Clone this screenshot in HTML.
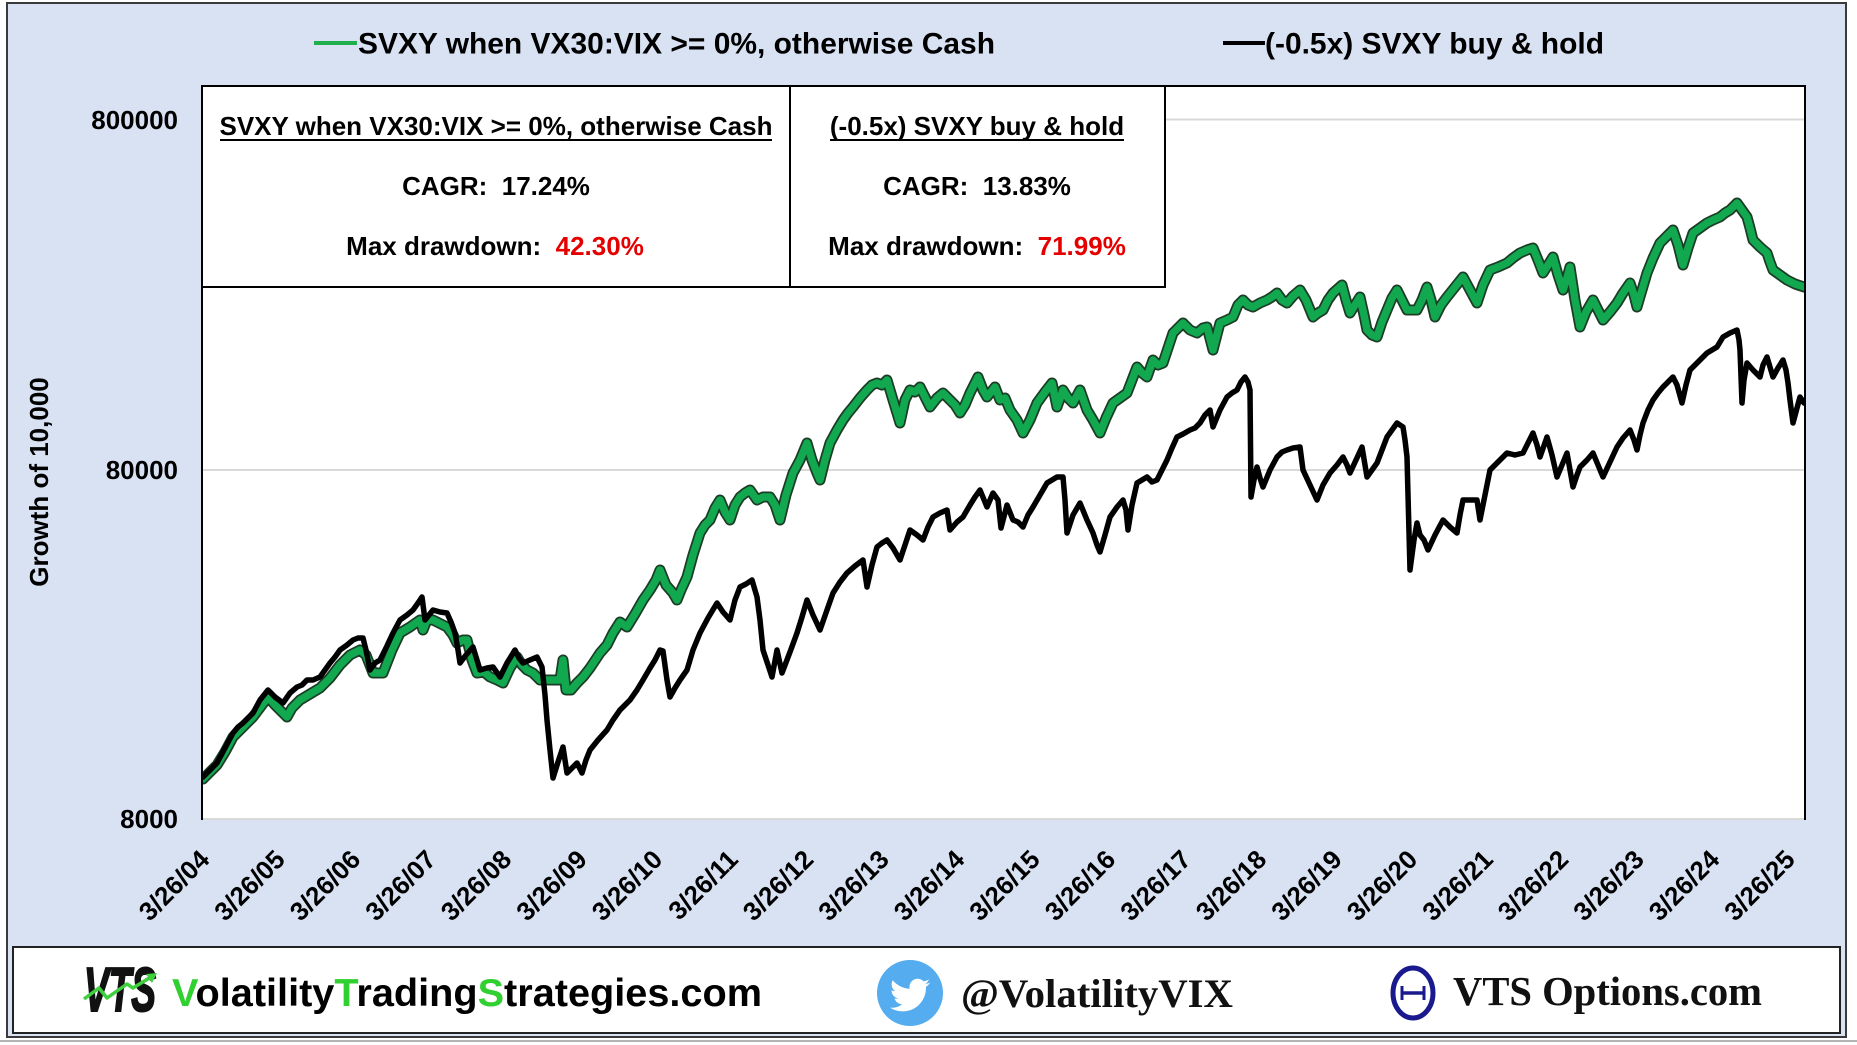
<!DOCTYPE html>
<html>
<head>
<meta charset="utf-8">
<style>
  html,body{margin:0;padding:0;background:#ffffff;}
  body{width:1857px;height:1045px;overflow:hidden;}
  svg{display:block;}
  .sans{font-family:"Liberation Sans", Arial, sans-serif;font-weight:bold;}
  .serif{font-family:"Liberation Serif", "Times New Roman", serif;font-weight:bold;}
</style>
</head>
<body>
<svg width="1857" height="1045" viewBox="0 0 1857 1045" xmlns="http://www.w3.org/2000/svg">
  <defs>
    <clipPath id="plotclip"><rect x="203" y="87" width="1601" height="732"/></clipPath>
  </defs>

  <!-- outer frame -->
  <rect x="0" y="0" width="1857" height="1045" fill="#ffffff"/>
  <rect x="7" y="3" width="1839" height="1034" fill="#d9e2f3" stroke="#3a3a3a" stroke-width="2"/>
  <line x1="0" y1="1041" x2="1857" y2="1041" stroke="#9a9a9a" stroke-width="1.5"/>

  <!-- legend -->
  <line x1="314" y1="43" x2="357" y2="43" stroke="#1fb04c" stroke-width="4"/>
  <text x="358" y="53.5" class="sans" font-size="30" fill="#000" textLength="637" lengthAdjust="spacingAndGlyphs">SVXY when VX30:VIX &gt;= 0%, otherwise Cash</text>
  <line x1="1223" y1="43" x2="1265" y2="43" stroke="#000" stroke-width="4"/>
  <text x="1265" y="53.5" class="sans" font-size="30" fill="#000" textLength="339" lengthAdjust="spacingAndGlyphs">(-0.5x) SVXY buy &amp; hold</text>

  <!-- plot area -->
  <rect x="202" y="86" width="1603" height="733" fill="#ffffff"/>
  <line x1="202" y1="119.5" x2="1805" y2="119.5" stroke="#d9d9d9" stroke-width="2"/>
  <line x1="202" y1="470" x2="1805" y2="470" stroke="#d9d9d9" stroke-width="2"/>
  <line x1="202" y1="819" x2="1805" y2="819" stroke="#d9d9d9" stroke-width="2"/>

  <!-- series -->
  <g clip-path="url(#plotclip)" fill="none" stroke-linejoin="round" stroke-linecap="round">
    <polyline stroke="#1b3d26" stroke-width="11" points="203,779 210,772 217,765 225,752 233,737 243,727 253,717 262,705 268,697 275,705 283,713 287,717 292,708 300,700 310,694 320,688 330,678 340,665 350,655 360,650 366,655 373,673 383,673 392,650 400,633 410,627 420,620 423,630 427,620 433,620 447,627 453,635 457,643 463,640 467,640 472,660 477,673 484,672 490,677 497,680 503,683 510,668 517,657 522,665 527,670 533,673 540,680 548,680 556,680 560,680 563,660 566,690 571,690 577,683 583,677 590,668 600,653 607,645 613,633 620,622 627,627 635,614 643,600 650,590 656,580 660,570 666,585 673,593 677,600 681,590 687,577 693,555 700,533 705,525 710,520 715,508 720,500 725,512 730,520 735,505 740,497 745,493 750,490 757,500 763,497 770,497 775,505 780,520 786,495 793,473 800,460 807,443 812,460 817,473 820,480 825,460 830,443 837,430 843,420 848,413 853,407 860,398 867,390 872,385 877,383 882,385 887,380 893,400 900,423 905,400 910,390 915,392 920,387 925,397 930,407 937,398 943,393 950,400 955,405 960,413 965,405 970,393 975,383 978,377 983,390 987,397 995,387 1000,400 1005,398 1010,410 1017,420 1023,433 1030,420 1037,403 1045,392 1052,383 1057,407 1063,390 1068,398 1073,403 1080,390 1087,410 1093,420 1100,433 1106,418 1113,403 1120,398 1127,393 1132,380 1137,367 1142,373 1147,377 1153,360 1158,365 1163,363 1168,348 1173,333 1178,328 1183,323 1190,330 1197,333 1203,328 1207,327 1213,350 1220,323 1227,320 1233,317 1238,305 1243,300 1248,305 1253,307 1260,303 1267,300 1272,297 1277,293 1282,300 1287,303 1293,296 1300,290 1306,300 1313,317 1318,313 1323,310 1328,300 1333,293 1342,285 1346,300 1350,313 1355,305 1360,297 1364,315 1367,330 1372,335 1377,337 1382,322 1387,310 1392,298 1397,290 1402,300 1407,310 1412,310 1417,310 1422,300 1427,287 1431,300 1435,317 1441,305 1447,297 1455,287 1463,277 1470,290 1477,303 1483,285 1490,270 1498,267 1507,263 1513,258 1520,253 1527,250 1533,248 1538,260 1543,273 1548,265 1553,257 1558,275 1563,290 1567,278 1570,267 1575,300 1580,327 1586,312 1593,300 1598,310 1603,320 1610,312 1617,303 1623,293 1630,283 1634,295 1637,307 1642,290 1647,273 1653,258 1660,243 1667,236 1673,230 1678,245 1683,265 1688,248 1693,233 1700,228 1707,223 1713,220 1720,217 1725,213 1730,210 1737,203 1742,210 1747,217 1750,228 1753,240 1760,247 1767,253 1770,262 1773,270 1780,275 1787,280 1795,284 1804,287"/>
    <polyline stroke="#12a850" stroke-width="7.5" points="203,779 210,772 217,765 225,752 233,737 243,727 253,717 262,705 268,697 275,705 283,713 287,717 292,708 300,700 310,694 320,688 330,678 340,665 350,655 360,650 366,655 373,673 383,673 392,650 400,633 410,627 420,620 423,630 427,620 433,620 447,627 453,635 457,643 463,640 467,640 472,660 477,673 484,672 490,677 497,680 503,683 510,668 517,657 522,665 527,670 533,673 540,680 548,680 556,680 560,680 563,660 566,690 571,690 577,683 583,677 590,668 600,653 607,645 613,633 620,622 627,627 635,614 643,600 650,590 656,580 660,570 666,585 673,593 677,600 681,590 687,577 693,555 700,533 705,525 710,520 715,508 720,500 725,512 730,520 735,505 740,497 745,493 750,490 757,500 763,497 770,497 775,505 780,520 786,495 793,473 800,460 807,443 812,460 817,473 820,480 825,460 830,443 837,430 843,420 848,413 853,407 860,398 867,390 872,385 877,383 882,385 887,380 893,400 900,423 905,400 910,390 915,392 920,387 925,397 930,407 937,398 943,393 950,400 955,405 960,413 965,405 970,393 975,383 978,377 983,390 987,397 995,387 1000,400 1005,398 1010,410 1017,420 1023,433 1030,420 1037,403 1045,392 1052,383 1057,407 1063,390 1068,398 1073,403 1080,390 1087,410 1093,420 1100,433 1106,418 1113,403 1120,398 1127,393 1132,380 1137,367 1142,373 1147,377 1153,360 1158,365 1163,363 1168,348 1173,333 1178,328 1183,323 1190,330 1197,333 1203,328 1207,327 1213,350 1220,323 1227,320 1233,317 1238,305 1243,300 1248,305 1253,307 1260,303 1267,300 1272,297 1277,293 1282,300 1287,303 1293,296 1300,290 1306,300 1313,317 1318,313 1323,310 1328,300 1333,293 1342,285 1346,300 1350,313 1355,305 1360,297 1364,315 1367,330 1372,335 1377,337 1382,322 1387,310 1392,298 1397,290 1402,300 1407,310 1412,310 1417,310 1422,300 1427,287 1431,300 1435,317 1441,305 1447,297 1455,287 1463,277 1470,290 1477,303 1483,285 1490,270 1498,267 1507,263 1513,258 1520,253 1527,250 1533,248 1538,260 1543,273 1548,265 1553,257 1558,275 1563,290 1567,278 1570,267 1575,300 1580,327 1586,312 1593,300 1598,310 1603,320 1610,312 1617,303 1623,293 1630,283 1634,295 1637,307 1642,290 1647,273 1653,258 1660,243 1667,236 1673,230 1678,245 1683,265 1688,248 1693,233 1700,228 1707,223 1713,220 1720,217 1725,213 1730,210 1737,203 1742,210 1747,217 1750,228 1753,240 1760,247 1767,253 1770,262 1773,270 1780,275 1787,280 1795,284 1804,287"/>
    <polyline stroke="#000000" stroke-width="5.5" points="203,777 210,770 217,763 225,748 233,733 238,727 243,723 248,718 253,713 260,700 268,690 275,697 283,703 290,693 297,687 302,685 307,680 313,680 320,677 325,670 330,663 335,657 340,650 347,645 353,640 358,638 363,638 366,650 370,670 375,663 380,660 386,648 393,633 400,620 407,615 413,610 418,603 422,597 425,620 429,615 433,610 440,612 447,613 451,622 455,633 458,650 460,663 466,655 473,647 477,660 480,670 487,668 493,667 500,677 507,663 515,650 519,658 523,663 530,660 537,657 540,663 542,667 545,695 547,720 550,750 553,778 558,762 563,747 567,773 572,768 577,763 582,773 586,760 590,750 598,740 607,730 613,720 620,710 625,705 630,700 637,690 643,680 650,668 655,660 660,650 663,651 667,680 670,697 675,688 680,680 687,670 693,650 700,633 708,618 717,603 723,612 730,620 735,600 740,587 746,584 752,580 757,597 760,620 763,650 768,665 772,677 777,650 782,673 790,652 797,633 802,617 807,600 813,615 820,630 827,610 833,593 840,582 847,573 855,566 863,560 867,587 872,565 877,547 882,543 887,540 893,548 900,560 905,545 910,530 917,535 923,540 928,527 933,517 940,513 947,510 950,530 957,522 963,517 970,505 975,497 980,490 987,507 993,493 998,500 1001,528 1007,505 1013,520 1018,522 1023,527 1028,515 1033,507 1040,495 1047,483 1052,480 1057,477 1063,477 1065,500 1067,533 1073,515 1080,503 1087,520 1093,533 1097,545 1100,552 1105,535 1110,517 1117,507 1123,500 1126,510 1128,530 1132,505 1137,483 1142,480 1147,477 1152,482 1157,480 1162,470 1167,460 1172,448 1177,437 1183,434 1190,430 1195,428 1200,423 1205,415 1210,410 1213,427 1220,410 1227,397 1232,393 1237,390 1241,382 1245,377 1248,382 1250,390 1251,497 1254,480 1257,467 1260,478 1263,487 1270,470 1277,457 1282,452 1287,450 1293,448 1300,447 1303,470 1310,485 1317,500 1323,485 1330,473 1337,465 1343,457 1347,465 1350,473 1356,460 1362,447 1365,465 1367,477 1372,470 1377,463 1382,450 1387,437 1392,430 1397,423 1403,427 1405,440 1407,457 1410,570 1414,540 1417,523 1420,535 1424,540 1428,550 1435,535 1443,520 1450,527 1457,533 1460,515 1463,500 1470,500 1477,500 1480,520 1485,495 1490,470 1498,462 1507,453 1515,455 1523,453 1528,443 1533,433 1537,445 1540,457 1547,437 1552,455 1557,477 1562,465 1567,453 1570,470 1573,487 1577,475 1580,467 1587,460 1593,453 1598,465 1603,477 1610,462 1617,447 1623,438 1630,430 1634,440 1637,450 1640,435 1643,423 1648,410 1653,400 1658,393 1663,387 1668,382 1673,377 1677,385 1682,403 1686,385 1690,370 1698,362 1707,353 1712,350 1717,347 1720,342 1723,337 1730,333 1737,330 1739,340 1740,350 1742,403 1744,380 1747,363 1753,370 1760,377 1763,365 1767,357 1770,367 1773,377 1778,368 1783,360 1786,370 1788,383 1790,400 1793,423 1797,408 1800,397 1804,403"/>
  </g>

  <!-- plot borders -->
  <line x1="202" y1="86" x2="1805" y2="86" stroke="#000" stroke-width="2"/>
  <line x1="202" y1="85" x2="202" y2="820" stroke="#000" stroke-width="2"/>
  <line x1="1805" y1="85" x2="1805" y2="820" stroke="#000" stroke-width="2"/>

  <!-- stats box -->
  <rect x="202" y="86" width="963" height="201" fill="#ffffff" stroke="#000" stroke-width="2"/>
  <line x1="790" y1="86" x2="790" y2="287" stroke="#000" stroke-width="2"/>
  <g class="sans" font-size="26" fill="#000" text-anchor="middle">
    <text x="496" y="135">SVXY when VX30:VIX &gt;= 0%, otherwise Cash</text>
    <line x1="220" y1="140" x2="772" y2="140" stroke="#000" stroke-width="2"/>
    <text x="496" y="195">CAGR:&#160; 17.24%</text>
    <text x="495" y="255">Max drawdown:&#160; <tspan fill="#e50000">42.30%</tspan></text>

    <text x="977" y="135">(-0.5x) SVXY buy &amp; hold</text>
    <line x1="830" y1="140" x2="1124" y2="140" stroke="#000" stroke-width="2"/>
    <text x="977" y="195">CAGR:&#160; 13.83%</text>
    <text x="977" y="255">Max drawdown:&#160; <tspan fill="#e50000">71.99%</tspan></text>
  </g>

  <!-- y axis labels -->
  <g class="sans" font-size="26" fill="#000" text-anchor="end">
    <text x="178" y="129">800000</text>
    <text x="178" y="479">80000</text>
    <text x="178" y="828">8000</text>
  </g>
  <text class="sans" font-size="26" fill="#000" text-anchor="middle" transform="translate(48,482) rotate(-90)">Growth of 10,000</text>

  <!-- x axis labels -->
  <g class="sans" font-size="26" fill="#000" text-anchor="end">
    <text transform="translate(211,861) rotate(-45)">3/26/04</text>
    <text transform="translate(286.5,861) rotate(-45)">3/26/05</text>
    <text transform="translate(362,861) rotate(-45)">3/26/06</text>
    <text transform="translate(437.5,861) rotate(-45)">3/26/07</text>
    <text transform="translate(513,861) rotate(-45)">3/26/08</text>
    <text transform="translate(588.5,861) rotate(-45)">3/26/09</text>
    <text transform="translate(664,861) rotate(-45)">3/26/10</text>
    <text transform="translate(739.5,861) rotate(-45)">3/26/11</text>
    <text transform="translate(815,861) rotate(-45)">3/26/12</text>
    <text transform="translate(890.5,861) rotate(-45)">3/26/13</text>
    <text transform="translate(966,861) rotate(-45)">3/26/14</text>
    <text transform="translate(1041.5,861) rotate(-45)">3/26/15</text>
    <text transform="translate(1117,861) rotate(-45)">3/26/16</text>
    <text transform="translate(1192.5,861) rotate(-45)">3/26/17</text>
    <text transform="translate(1268,861) rotate(-45)">3/26/18</text>
    <text transform="translate(1343.5,861) rotate(-45)">3/26/19</text>
    <text transform="translate(1419,861) rotate(-45)">3/26/20</text>
    <text transform="translate(1494.5,861) rotate(-45)">3/26/21</text>
    <text transform="translate(1570,861) rotate(-45)">3/26/22</text>
    <text transform="translate(1645.5,861) rotate(-45)">3/26/23</text>
    <text transform="translate(1721,861) rotate(-45)">3/26/24</text>
    <text transform="translate(1796.5,861) rotate(-45)">3/26/25</text>
  </g>

  <!-- footer -->
  <rect x="13" y="947" width="1827" height="86" fill="#ffffff" stroke="#222" stroke-width="2"/>

  <!-- VTS logo -->
  <text x="84" y="1011" font-family="Liberation Sans, Arial, sans-serif" font-weight="bold" font-style="italic" font-size="62" fill="#111" stroke="#111" stroke-width="2" textLength="72" lengthAdjust="spacingAndGlyphs">VTS</text>
  <polyline points="84,999 99,988 107,998 127,984 133,988 151,977" fill="none" stroke="#3fcf3f" stroke-width="3.5" stroke-linejoin="round"/>
  <polygon points="157,973 146,974 152,983" fill="#3fcf3f"/>

  <text x="172" y="1006" class="sans" font-size="39" fill="#000" textLength="590" lengthAdjust="spacingAndGlyphs"><tspan fill="#2fd02f">V</tspan>olatility<tspan fill="#2fd02f">T</tspan>rading<tspan fill="#2fd02f">S</tspan>trategies.com</text>

  <!-- twitter -->
  <circle cx="910" cy="993" r="33" fill="#55acee"/>
  <path transform="translate(890,975) scale(1.67)" fill="#ffffff" d="M23.954 4.569c-.885.389-1.83.654-2.825.775 1.014-.611 1.794-1.574 2.163-2.723-.951.555-2.005.959-3.127 1.184-.896-.959-2.173-1.559-3.591-1.559-2.717 0-4.920 2.203-4.920 4.917 0 .39.045.765.127 1.124C7.691 8.094 4.066 6.13 1.64 3.161c-.427.722-.666 1.561-.666 2.475 0 1.71.87 3.213 2.188 4.096-.807-.026-1.566-.248-2.228-.616v.061c0 2.385 1.693 4.374 3.946 4.827-.413.111-.849.171-1.296.171-.314 0-.615-.03-.916-.086.631 1.953 2.445 3.377 4.604 3.417-1.68 1.319-3.809 2.105-6.102 2.105-.39 0-.779-.023-1.17-.067 2.189 1.394 4.768 2.209 7.557 2.209 9.054 0 13.999-7.496 13.999-13.986 0-.209 0-.42-.015-.63.961-.689 1.8-1.56 2.46-2.548l-.047-.02z"/>
  <text x="961" y="1007" class="serif" font-size="40" fill="#111" textLength="272" lengthAdjust="spacingAndGlyphs">@VolatilityVIX</text>

  <!-- theta logo -->
  <ellipse cx="1413" cy="993" rx="20" ry="25" fill="none" stroke="#1a1a8e" stroke-width="5"/>
  <line x1="1401" y1="993" x2="1425" y2="993" stroke="#1a1a8e" stroke-width="3.5"/>
  <line x1="1402" y1="986" x2="1402" y2="1000" stroke="#1a1a8e" stroke-width="3"/>
  <line x1="1424" y1="986" x2="1424" y2="1000" stroke="#1a1a8e" stroke-width="3"/>
  <text x="1453" y="1005" class="serif" font-size="41" fill="#111" textLength="309" lengthAdjust="spacingAndGlyphs">VTS Options.com</text>
</svg>
</body>
</html>
